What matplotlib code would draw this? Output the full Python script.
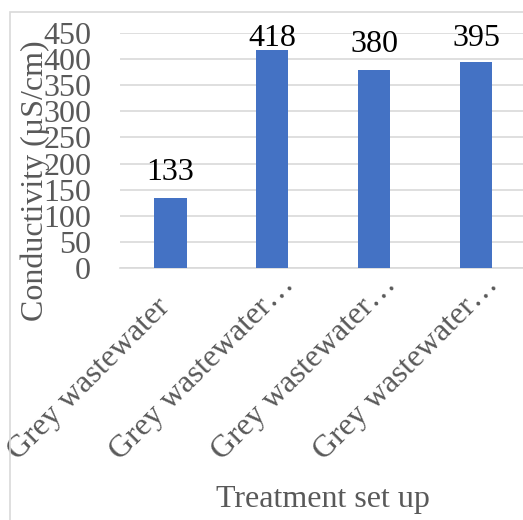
import matplotlib
matplotlib.use("Agg")
import matplotlib.pyplot as plt
from matplotlib.patches import Rectangle
from matplotlib.transforms import ScaledTranslation

categories = ["Grey wastewater", "Grey wastewater\u2026", "Grey wastewater\u2026", "Grey wastewater\u2026"]
conductivity = [133, 418, 380, 395]
y_ticks = [0, 50, 100, 150, 200, 250, 300, 350, 400, 450]

W, H = 523, 520
DPI = 100
plt.rcParams["font.family"] = ["Liberation Serif", "DejaVu Serif"]

fig = plt.figure(figsize=(W / DPI, H / DPI), dpi=DPI)
fig.patch.set_facecolor("white")

# chart frame
fig.patches.append(Rectangle((10 / W, -0.1), 1.2, 1 - 12 / H + 0.1, transform=fig.transFigure,
                             fill=False, edgecolor="#d9d9d9", linewidth=1.2))

left, right = 119.6, 527.0
top, bottom = 33.3, 267.7
ax = fig.add_axes([left / W, 1 - bottom / H, (right - left) / W, (bottom - top) / H])

x = range(len(categories))
bars = ax.bar(x, conductivity, width=0.315, color="#4472c4", zorder=3)
ax.set_xlim(-0.5, len(categories) - 0.5)
ax.set_ylim(0, 450)
ax.set_yticks(y_ticks)
ax.yaxis.grid(True, color="#d9d9d9", linewidth=1.2, zorder=0)
ax.set_axisbelow(True)
for s in ["top", "right", "left"]:
    ax.spines[s].set_visible(False)
ax.spines["bottom"].set_color("#d9d9d9")
ax.spines["bottom"].set_linewidth(1.2)
ax.tick_params(axis="both", length=0, labelsize=23, colors="#595959")
ax.tick_params(axis="y", pad=20.5)
ax.tick_params(axis="x", pad=0)

# rotated category labels, anchored at the start of the text
ax.set_xticks(list(x))
ax.set_xticklabels(categories, rotation=45, ha="left", va="baseline", rotation_mode="anchor")
shift = ScaledTranslation(-1.52, -1.93, fig.dpi_scale_trans)
for lbl in ax.get_xticklabels():
    lbl.set_fontsize(23)
    lbl.set_color("#595959")
    lbl.set_transform(lbl.get_transform() + shift)

# value labels above the bars, kept inside the chart area
for rect, v in zip(bars, conductivity):
    ax.text(rect.get_x() + rect.get_width() / 2, min(v + 35, 426), f"{v}",
            ha="center", va="baseline", fontsize=23, color="black")

fig.text(35 / W, 1 - 181 / H, "Conductivity (\u00b5S/cm)", rotation=90, ha="center", va="center",
         fontsize=23, color="#595959")
fig.text(323 / W, 1 - 499 / H, "Treatment set up", ha="center", va="center", fontsize=23, color="#595959")

fig.savefig("out.png", dpi=DPI)
